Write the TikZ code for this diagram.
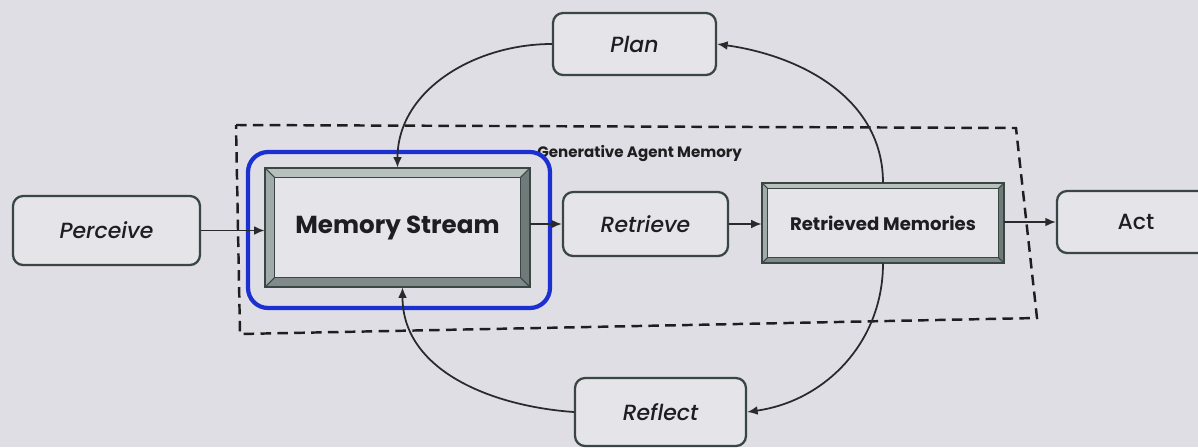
\documentclass[tikz,border=0pt]{standalone}
\usepackage{fontspec}
\setmainfont{Poppins}[BoldFont={Poppins SemiBold}]
\newfontfamily\popmed{Poppins Medium}[ItalicFont={Poppins Medium Italic}]
\newfontfamily\popbold{Poppins Bold}
\usetikzlibrary{calc,arrows.meta}

\definecolor{paper}{RGB}{222,222,228}
\definecolor{boxfill}{RGB}{228,228,233}
\definecolor{edge}{RGB}{58,70,68}
\definecolor{ink}{RGB}{30,30,32}
\definecolor{wire}{RGB}{40,42,44}
\definecolor{hilite}{RGB}{28,48,210}
\definecolor{bevT}{RGB}{184,192,190}
\definecolor{bevL}{RGB}{160,170,168}
\definecolor{bevB}{RGB}{128,138,136}
\definecolor{bevR}{RGB}{112,122,120}

\tikzset{
  softbox/.style={draw=edge, line width=1.3pt, rounded corners=0.2cm, fill=boxfill,
    text=ink, font=\fontsize{12.5}{14}\selectfont\popmed\itshape},
  plainbox/.style={softbox, font=\fontsize{12.5}{14}\selectfont\popmed},
  bevelbox/.style={fill=boxfill, text=ink, inner sep=0pt},
  link/.style={draw=wire, line width=1pt, -{Latex[length=6pt,width=5pt]}},
  groupframe/.style={draw=ink, line width=1.4pt, dash pattern=on 6pt off 3.6pt},
  focusring/.style={draw=hilite, line width=2.4pt, rounded corners=0.4cm},
}

% bevelled frame around a named node: #1 node, #2 bevel depth
\newcommand\bevelframe[2]{%
  \fill[bevT] (#1.north west) -- (#1.north east) -- ($(#1.north east)+(-#2,#2)$) -- ($(#1.north west)+(#2,#2)$) -- cycle;
  \fill[bevL] (#1.north west) -- ($(#1.north west)+(#2,#2)$) -- ($(#1.south west)+(#2,-#2)$) -- (#1.south west) -- cycle;
  \fill[bevB] (#1.south west) -- ($(#1.south west)+(#2,-#2)$) -- ($(#1.south east)+(-#2,-#2)$) -- (#1.south east) -- cycle;
  \fill[bevR] (#1.north east) -- (#1.south east) -- ($(#1.south east)+(-#2,-#2)$) -- ($(#1.north east)+(-#2,#2)$) -- cycle;
  \draw[edge, line width=1pt] (#1.north west) rectangle (#1.south east);
  \draw[edge, line width=0.8pt] ($(#1.north west)+(#2,#2)$) rectangle ($(#1.south east)+(-#2,-#2)$);
  \draw[edge, line width=0.6pt] (#1.north west) -- ($(#1.north west)+(#2,#2)$)
    (#1.north east) -- ($(#1.north east)+(-#2,#2)$)
    (#1.south east) -- ($(#1.south east)+(-#2,-#2)$)
    (#1.south west) -- ($(#1.south west)+(#2,-#2)$);
}

\begin{document}
\begin{tikzpicture}[x=0.02cm, y=-0.02cm]
  \fill[paper] (0,0) rectangle (1198,447);
  \useasboundingbox (0,0) rectangle (1198,447);
  \clip (0,0) rectangle (1198,447);

  % memory group outline
  \coordinate (g1) at (236,125);
  \coordinate (g2) at (1016,128);
  \coordinate (g3) at (1037,318);
  \coordinate (g4) at (240,334);
  \draw[groupframe] (g1) -- (g2) -- (g3) -- (g4) -- cycle;
  \node[anchor=west, text=ink, font=\fontsize{8.6}{10}\selectfont\popbold, inner sep=0pt]
    (grouplabel) at (537,154) {Generative Agent Memory};

  % highlighted memory stream
  \node[focusring, minimum width=6.04cm, minimum height=3.12cm] (ring) at (399,230) {};

  % stages
  \node[softbox, minimum width=3.74cm, minimum height=1.38cm] (perceive) at (106.5,230.5) {Perceive};
  \node[bevelbox, minimum width=5.3cm, minimum height=2.38cm] (ms) at (397.5,227.5) {};
  \bevelframe{ms}{10}
  \node[text=ink, font=\fontsize{14}{17}\selectfont\popbold] (mstext) at (ms.center) {Memory Stream};
  \node[softbox, minimum width=3.3cm, minimum height=1.28cm] (retrieve) at (645.5,224) {Retrieve};
  \node[bevelbox, minimum width=4.84cm, minimum height=1.6cm] (rm) at (883,223) {};
  \bevelframe{rm}{6}
  \node[text=ink, font=\fontsize{10.3}{13}\selectfont\popbold] (rmtext) at (rm.center) {Retrieved Memories};
  \node[plainbox, minimum width=3.16cm, minimum height=1.24cm] (act) at (1136,222) {Act};
  \node[softbox, minimum width=3.26cm, minimum height=1.24cm] (plan) at (634.5,44) {Plan};
  \node[softbox, minimum width=3.42cm, minimum height=1.36cm] (reflect) at (660.5,412) {Reflect};

  % flow
  \draw[link] (perceive.east) -- (perceive.east -| ms.west);
  \draw[link] (ms.east |- retrieve.west) -- (retrieve.west);
  \draw[link] (retrieve.east) -- (rm.west |- retrieve.east);
  \draw[link] (rm.east |- act.west) -- (act.west);
  \draw[link] (rm.north) to[out=90, in=-8] (plan.east);
  \draw[link] (plan.west) to[out=180, in=90] (ms.north);
  \draw[link] (rm.south) to[out=-90, in=8] (reflect.east);
  \draw[link] (reflect.west) to[out=176, in=-90] ($(ms.south)+(5,0)$);
\end{tikzpicture}
\end{document}
